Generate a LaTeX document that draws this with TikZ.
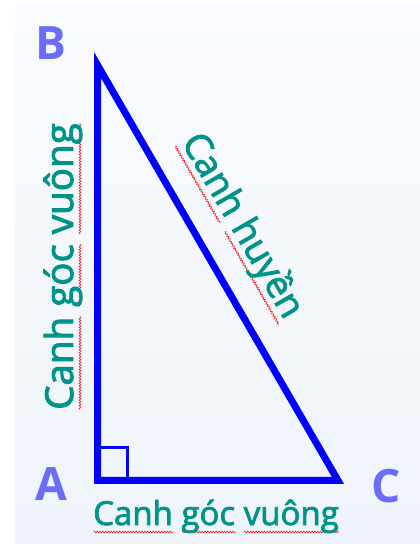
\documentclass[tikz,border=0pt]{standalone}
\usepackage{fontspec}
\setmainfont{Open Sans}
\newfontfamily\tealfont[FakeBold=2.4]{Open Sans}
\usetikzlibrary{decorations.pathmorphing}

\definecolor{triblue}{RGB}{0,0,255}
\definecolor{vertexblue}{RGB}{108,108,250}
\definecolor{labelteal}{RGB}{0,148,136}
\definecolor{bgtop}{RGB}{249,251,254}
\definecolor{bgbottom}{RGB}{238,244,250}

% red spell-check wave under a word
\newcommand\wavyword[1]{\setbox0\hbox{#1}\rlap{\tikz[baseline=0pt]\draw[red!85!white, line width=0.7pt, decorate, decoration={snake, amplitude=0.9pt, segment length=2.8pt}] (0pt,-7pt) -- (\wd0,-7pt);}\box0\relax}

\begin{document}
\begin{tikzpicture}[
				x=1pt, y=1pt,
				vertex/.style={font=\fontsize{46}{46}\selectfont\bfseries, text=vertexblue, inner sep=0pt},
				side/.style={font=\tealfont\fontsize{33}{33}\selectfont, text=labelteal, inner sep=0pt},
				tri/.style={draw=triblue, line width=7pt, line join=miter},
				rightang/.style={draw=triblue, line width=3pt}
				]
				\useasboundingbox (0,0) rectangle (420,544);
				\shade[top color=bgtop, bottom color=bgbottom] (15,0) rectangle (420,537);
				
				\coordinate (A) at (97.5,63.5);
				\coordinate (B) at (97.5,479);
				\coordinate (C) at (338,63.5);
				
				\draw[tri] (A) -- (B) -- (C) -- cycle;
				\draw[rightang] (A) rectangle ++(29.5,33);
				
				\node[vertex] (labB) at (51,500.5) {B};
				\node[vertex] (labA) at (51,60) {A};
				\node[vertex] (labC) at (386,58) {C};
				
				\node[side, anchor=base west] (legAC) at (93,19) {\wavyword{Canh} \wavyword{góc} \wavyword{vuông}};
				\node[side, anchor=base west, rotate=90, font=\tealfont\fontsize{38.5}{38.5}\selectfont] (legAB) at (73,134) {\wavyword{Canh} \wavyword{góc} \wavyword{vuông}};
				\node[side, rotate=-59.9, font=\tealfont\fontsize{37}{37}\selectfont] (hypBC) at (242,318) {\wavyword{Canh} \wavyword{huyền}};
				
			\end{tikzpicture}
\end{document}
